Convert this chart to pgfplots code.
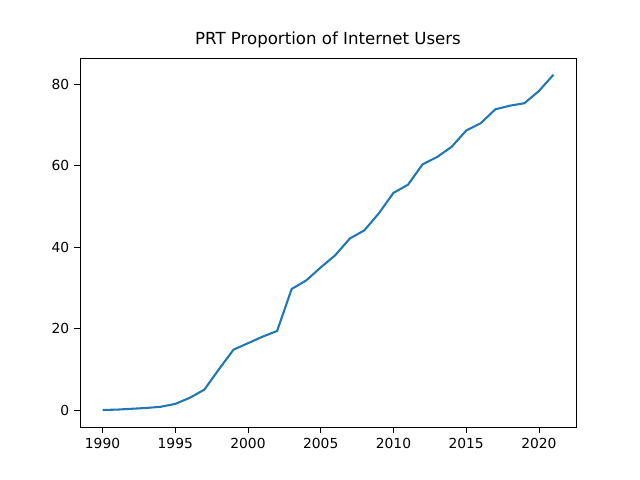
\documentclass[border=0pt]{standalone}
\usepackage{pgfplots}
\pgfplotsset{compat=1.18}
\usepackage{fontspec}
\setmainfont{DejaVu Sans}
\begin{document}
\begin{tikzpicture}
\path[use as bounding box] (-0.8in,-0.53in) rectangle (5.6in,4.27in);
\begin{axis}[at={(0,0)},anchor=south west,
scale only axis, width=4.96in, height=3.69in,
xmin=1988.45, xmax=2022.55, ymin=-4.17, ymax=86.4,
xtick={1990,1995,...,2020}, ytick={0,20,...,80},
xticklabel style={/pgf/number format/1000 sep={}},
/pgf/number format/assume math mode=true,
tick align=outside, tick pos=lower, tick style={black, thin},
ticklabel style={font=\fontsize{10}{12}\selectfont},
title={PRT Proportion of Internet Users},
title style={font=\fontsize{12}{14}\selectfont, yshift=-2pt},
axis line style={black, thin}]
\addplot[color={rgb,255:red,31;green,119;blue,180}, line width=1.5pt] coordinates {
(1990,0)(1991,0.1)(1992,0.3)(1993,0.5)(1994,0.8)(1995,1.5)(1996,3)(1997,5)(1998,10)(1999,14.8)(2000,16.4)(2001,18)(2002,19.4)(2003,29.7)(2004,31.8)(2005,35)(2006,38)(2007,42.1)(2008,44.1)(2009,48.3)(2010,53.3)(2011,55.3)(2012,60.3)(2013,62.1)(2014,64.6)(2015,68.6)(2016,70.4)(2017,73.8)(2018,74.7)(2019,75.3)(2020,78.3)(2021,82.3)};
\end{axis}
\end{tikzpicture}
\end{document}
